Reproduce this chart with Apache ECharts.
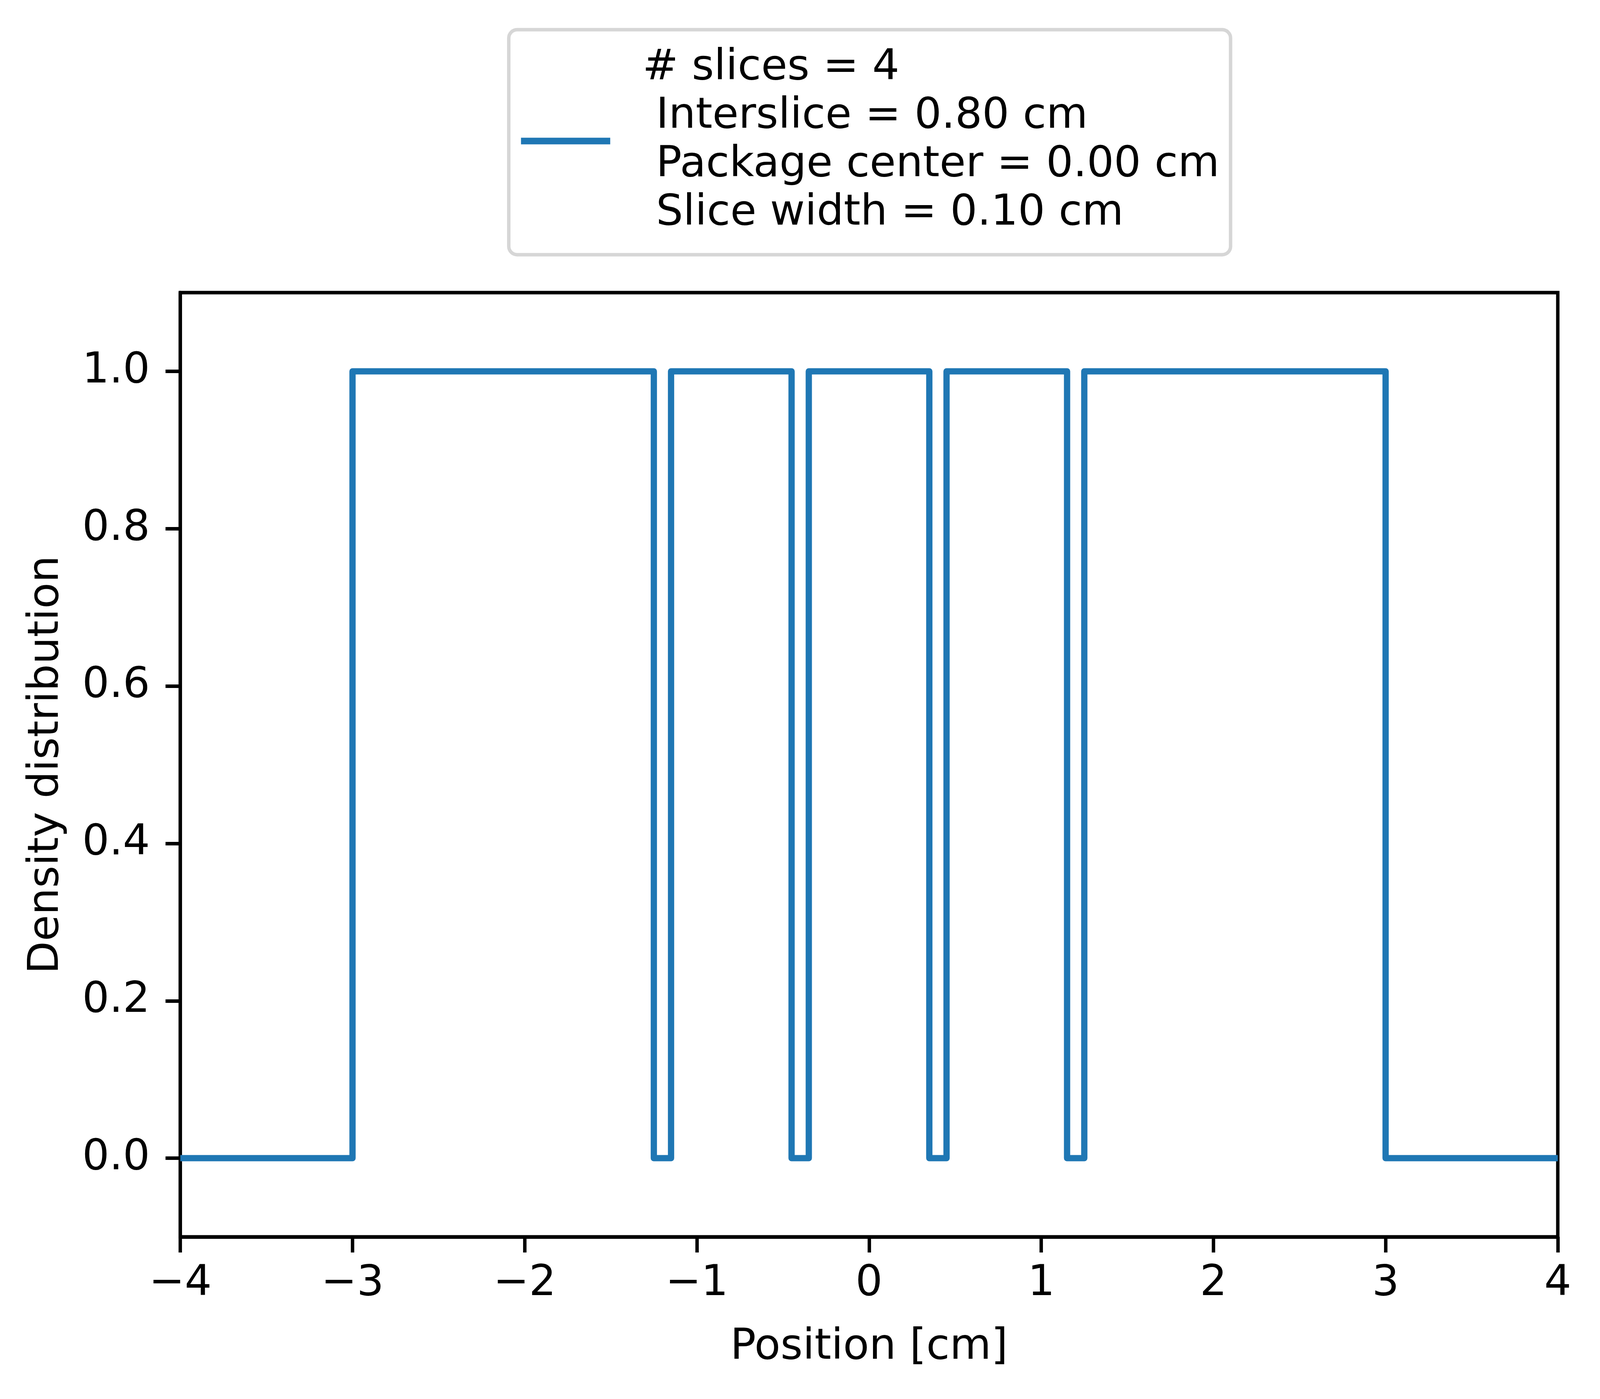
<!DOCTYPE html>
<html>
<head>
<meta charset="utf-8">
<script src="https://cdn.jsdelivr.net/npm/echarts@6/dist/echarts.min.js"></script>
<style>
  html, body { margin: 0; padding: 0; background: #fff; overflow: hidden; }
  #chart { width: 100vw; height: 100vh; }
</style>
</head>
<body>
<div id="chart"></div>
<script>
// step profile: 4 slices, gaps of 0.10 cm between the bands
const positions = [-4, -3, -3, -1.25, -1.25, -1.15, -1.15, -0.45, -0.45, -0.35, -0.35,
  0.35, 0.35, 0.45, 0.45, 1.15, 1.15, 1.25, 1.25, 3, 3, 4];
const density = [0, 0, 1, 1, 0, 0, 1, 1, 0, 0, 1, 1, 0, 0, 1, 1, 0, 0, 1, 1, 0, 0];

const xTicks = [-4, -3, -2, -1, 0, 1, 2, 3, 4];
const yTicks = [0, 0.2, 0.4, 0.6, 0.8, 1.0];

const seriesName = '# slices = 4\n Interslice = 0.80 cm\n Package center = 0.00 cm\n Slice width = 0.10 cm';

const FONT = 'DejaVu Sans';

// layout measured on the 4321x3581 picture; the real viewport can be narrower
const sx = window.innerWidth / 4321;
const sy = window.innerHeight / 3581;
const X = v => v * sx;
const Y = v => v * sy;
const F = v => v * (sx + sy) / 2;
const FS = F(112);

const chart = echarts.init(document.getElementById('chart'), null, { renderer: 'canvas' });

const points = positions.map((x, i) => [x, density[i]]);

const option = {
  animation: false,
  backgroundColor: '#ffffff',
  textStyle: { fontFamily: FONT },
  grid: {
    left: X(487),
    right: X(114),
    top: Y(749),
    bottom: Y(415),
    show: true,
    borderColor: '#000',
    borderWidth: F(9),
    outerBoundsMode: 'none'
  },
  legend: {
    left: X(1374),
    top: Y(76),
    orient: 'vertical',
    icon: 'rect',
    itemWidth: X(241),
    itemHeight: Y(17),
    padding: [Y(37), X(30), Y(43), X(33)],
    backgroundColor: '#ffffff',
    borderColor: 'rgba(204,204,204,0.8)',
    borderWidth: F(9),
    borderRadius: F(22),
    selectedMode: false,
    data: [seriesName],
    textStyle: {
      fontFamily: FONT,
      fontSize: FS,
      color: '#000',
      lineHeight: Y(124),
      padding: [0, 0, 0, X(82)]
    }
  },
  xAxis: {
    type: 'value',
    min: -4,
    max: 4,
    interval: 1,
    name: 'Position [cm]',
    nameLocation: 'middle',
    nameGap: Y(229),
    nameTextStyle: { fontFamily: FONT, fontSize: FS, color: '#000', lineHeight: FS },
    splitLine: { show: false },
    axisLine: { show: true, onZero: false, lineStyle: { color: '#000', width: F(9) } },
    axisTick: { show: true, inside: false, length: Y(40), lineStyle: { color: '#000', width: F(9) }, customValues: xTicks },
    axisLabel: {
      customValues: xTicks,
      margin: Y(66),
      fontFamily: FONT,
      fontSize: FS,
      lineHeight: FS,
      color: '#000',
      formatter: v => String(v).replace('-', '\u2212')
    }
  },
  yAxis: {
    type: 'value',
    min: -0.1,
    max: 1.1,
    name: 'Density distribution',
    nameLocation: 'middle',
    nameGap: X(303),
    nameTextStyle: { fontFamily: FONT, fontSize: FS, color: '#000', lineHeight: FS },
    splitLine: { show: false },
    axisLine: { show: true, onZero: false, lineStyle: { color: '#000', width: F(9) } },
    axisTick: { show: true, inside: false, length: X(40), lineStyle: { color: '#000', width: F(9) }, customValues: yTicks },
    axisLabel: {
      customValues: yTicks,
      margin: X(82),
      fontFamily: FONT,
      fontSize: FS,
      color: '#000',
      formatter: v => v.toFixed(1)
    }
  },
  series: [{
    name: seriesName,
    type: 'line',
    data: points,
    symbol: 'none',
    showSymbol: false,
    clip: true,
    color: '#1f77b4',
    lineStyle: { color: '#1f77b4', width: F(16.5), join: 'round', cap: 'butt' }
  }]
};

chart.setOption(option);
</script>
</body>
</html>
